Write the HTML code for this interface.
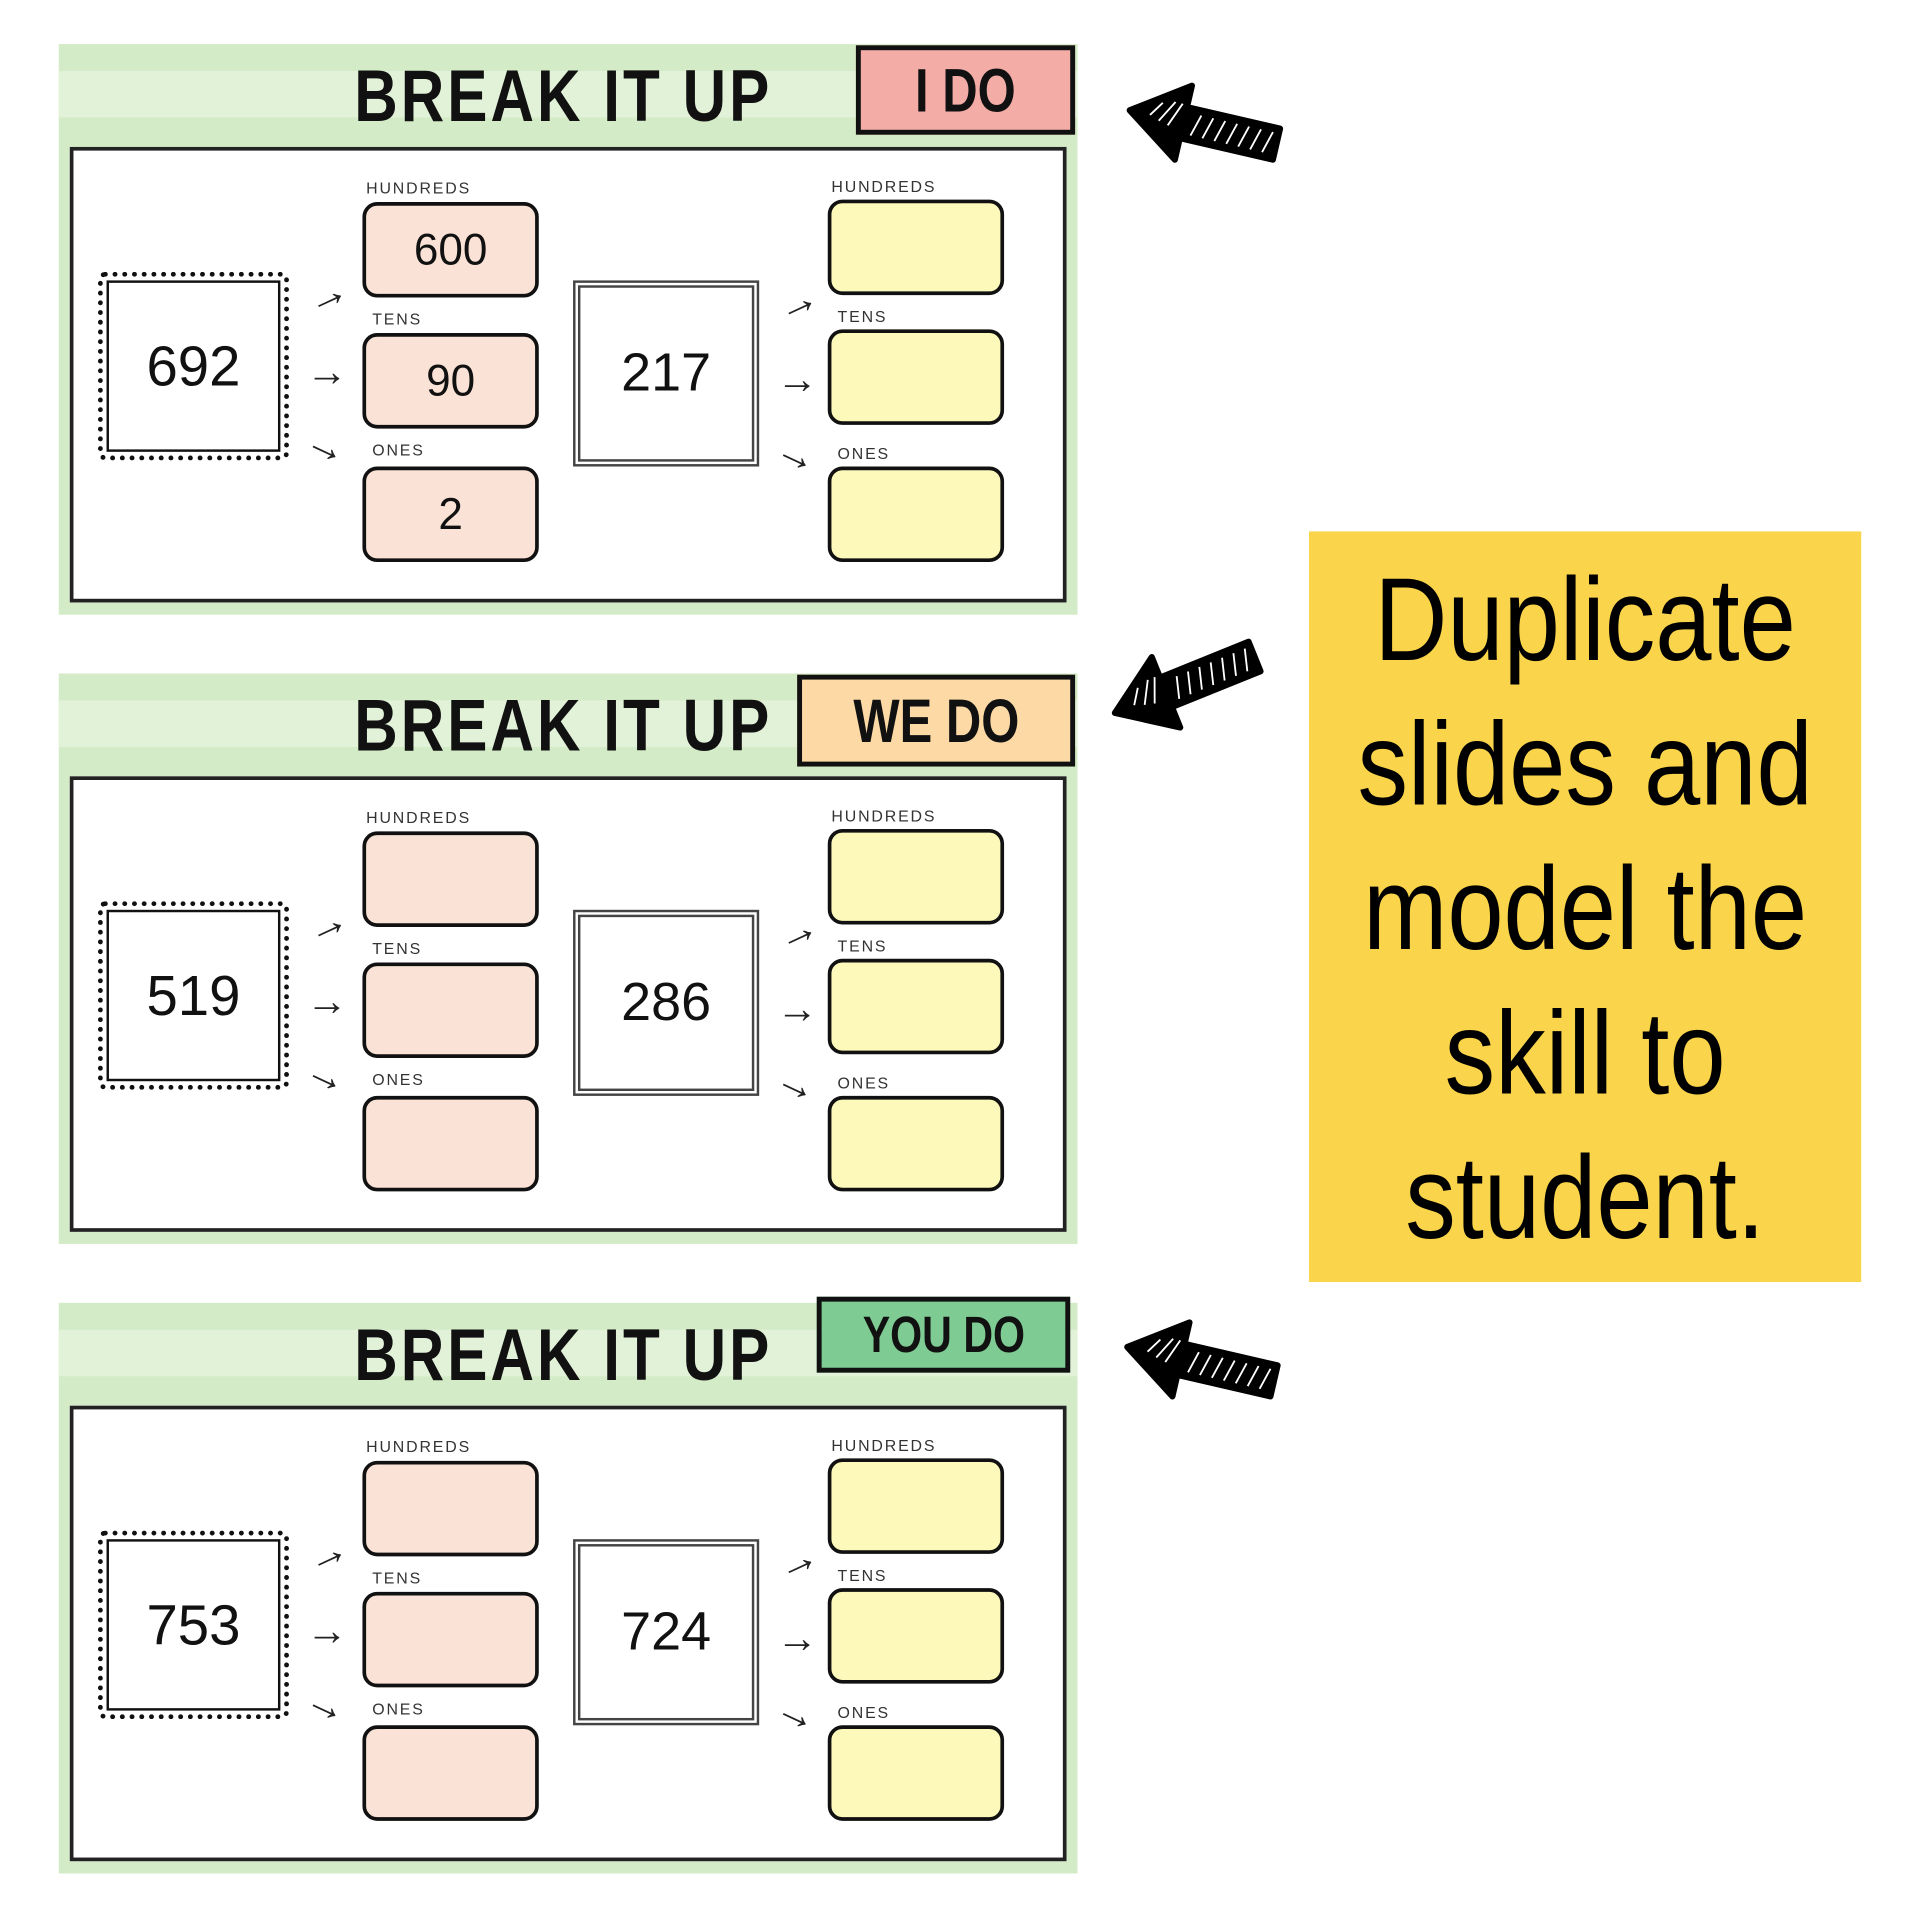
<!DOCTYPE html>
<html><head><meta charset="utf-8"><style>
html,body{margin:0;padding:0;background:#fff;}
body{width:1920px;height:1920px;overflow:hidden;position:relative;}
#w{position:absolute;left:0;top:0;width:1568px;height:1568px;transform:scale(1.22449);transform-origin:0 0;font-family:"Liberation Sans",sans-serif;}
.slide{position:absolute;left:48px;width:832px;height:466px;background:#d3ebc6;}
.band{position:absolute;left:0;top:22px;width:832px;height:38px;background:#e2f2d9;}
.title{position:absolute;left:162px;width:500px;top:8px;text-align:center;font-weight:bold;font-size:60px;letter-spacing:3px;color:#111;transform:scaleX(0.82);}
.badge{position:absolute;border:4px solid #111;box-sizing:border-box;text-align:center;font-weight:bold;color:#111;}
.badge span{display:inline-block;transform:scaleX(0.8);}
.panel{position:absolute;left:9px;top:84px;width:814px;height:372px;background:#fff;border:3px solid #222;box-sizing:border-box;}
.f1{position:absolute;left:32px;top:186px;width:156px;height:154px;box-sizing:border-box;border:4px dotted #111;outline:2px solid #111;outline-offset:-9px;border-radius:6px;font-size:46px;text-align:center;line-height:146px;color:#111;}
.f2{position:absolute;left:420px;top:193px;width:152px;height:152px;box-sizing:border-box;border:6px double #444;font-size:44px;text-align:center;line-height:140px;color:#111;}
.box{position:absolute;width:144px;height:78px;box-sizing:border-box;border:3px solid #111;border-radius:12px;font-size:36px;text-align:center;line-height:72px;color:#111;}
.p{background:#fae3d6;left:248px;}
.y{background:#fdf9ba;left:628px;}
.lbl{position:absolute;font-size:13px;letter-spacing:1.5px;color:#333;}
.ar{position:absolute;font-size:34px;line-height:34px;color:#222;}
.note{position:absolute;left:1069px;top:434px;width:451px;height:613px;background:#fad44a;text-align:center;color:#000;padding-top:14px;box-sizing:border-box;}
.note div{font-size:96px;line-height:118px;transform:scaleX(0.86);white-space:nowrap;}
.arr{position:absolute;width:130px;height:70px;}
</style></head><body><div id="w">

<div class="slide" style="top:36px">
 <div class="band"></div>
 <div class="title">BREAK IT UP</div>
 <div class="badge" style="left:651px;top:1px;width:179px;height:73px;background:#f4aca6;font-size:50px;line-height:66px;"><span>I DO</span></div>
 <div class="panel"></div>
 <div class="f1">692</div>
 <div class="ar" style="left:202px;top:188px;transform:rotate(-25deg)">→</div>
 <div class="ar" style="left:202px;top:251px">→</div>
 <div class="ar" style="left:202px;top:311px;transform:rotate(25deg)">→</div>
 <div class="lbl" style="left:251px;top:110px">HUNDREDS</div>
 <div class="box p" style="top:129px">600</div>
 <div class="lbl" style="left:256px;top:217px">TENS</div>
 <div class="box p" style="top:236px">90</div>
 <div class="lbl" style="left:256px;top:324px">ONES</div>
 <div class="box p" style="top:345px">2</div>
 <div class="f2">217</div>
 <div class="ar" style="left:586px;top:194px;transform:rotate(-25deg)">→</div>
 <div class="ar" style="left:586px;top:257px">→</div>
 <div class="ar" style="left:586px;top:318px;transform:rotate(25deg)">→</div>
 <div class="lbl" style="left:631px;top:109px">HUNDREDS</div>
 <div class="box y" style="top:127px"></div>
 <div class="lbl" style="left:636px;top:215px">TENS</div>
 <div class="box y" style="top:233px"></div>
 <div class="lbl" style="left:636px;top:327px">ONES</div>
 <div class="box y" style="top:345px"></div>
</div>

<div class="slide" style="top:550px">
 <div class="band"></div>
 <div class="title">BREAK IT UP</div>
 <div class="badge" style="left:603px;top:1px;width:227px;height:75px;background:#fcd9a5;font-size:50px;line-height:68px;"><span>WE DO</span></div>
 <div class="panel"></div>
 <div class="f1">519</div>
 <div class="ar" style="left:202px;top:188px;transform:rotate(-25deg)">→</div>
 <div class="ar" style="left:202px;top:251px">→</div>
 <div class="ar" style="left:202px;top:311px;transform:rotate(25deg)">→</div>
 <div class="lbl" style="left:251px;top:110px">HUNDREDS</div>
 <div class="box p" style="top:129px"></div>
 <div class="lbl" style="left:256px;top:217px">TENS</div>
 <div class="box p" style="top:236px"></div>
 <div class="lbl" style="left:256px;top:324px">ONES</div>
 <div class="box p" style="top:345px"></div>
 <div class="f2">286</div>
 <div class="ar" style="left:586px;top:194px;transform:rotate(-25deg)">→</div>
 <div class="ar" style="left:586px;top:257px">→</div>
 <div class="ar" style="left:586px;top:318px;transform:rotate(25deg)">→</div>
 <div class="lbl" style="left:631px;top:109px">HUNDREDS</div>
 <div class="box y" style="top:127px"></div>
 <div class="lbl" style="left:636px;top:215px">TENS</div>
 <div class="box y" style="top:233px"></div>
 <div class="lbl" style="left:636px;top:327px">ONES</div>
 <div class="box y" style="top:345px"></div>
</div>

<div class="slide" style="top:1064px">
 <div class="band"></div>
 <div class="title">BREAK IT UP</div>
 <div class="badge" style="left:619px;top:-5px;width:207px;height:62px;background:#7ecb93;font-size:42px;line-height:54px;"><span>YOU DO</span></div>
 <div class="panel"></div>
 <div class="f1">753</div>
 <div class="ar" style="left:202px;top:188px;transform:rotate(-25deg)">→</div>
 <div class="ar" style="left:202px;top:251px">→</div>
 <div class="ar" style="left:202px;top:311px;transform:rotate(25deg)">→</div>
 <div class="lbl" style="left:251px;top:110px">HUNDREDS</div>
 <div class="box p" style="top:129px"></div>
 <div class="lbl" style="left:256px;top:217px">TENS</div>
 <div class="box p" style="top:236px"></div>
 <div class="lbl" style="left:256px;top:324px">ONES</div>
 <div class="box p" style="top:345px"></div>
 <div class="f2">724</div>
 <div class="ar" style="left:586px;top:194px;transform:rotate(-25deg)">→</div>
 <div class="ar" style="left:586px;top:257px">→</div>
 <div class="ar" style="left:586px;top:318px;transform:rotate(25deg)">→</div>
 <div class="lbl" style="left:631px;top:109px">HUNDREDS</div>
 <div class="box y" style="top:127px"></div>
 <div class="lbl" style="left:636px;top:215px">TENS</div>
 <div class="box y" style="top:233px"></div>
 <div class="lbl" style="left:636px;top:327px">ONES</div>
 <div class="box y" style="top:345px"></div>
</div>

<div class="note"><div>Duplicate</div><div>slides and</div><div>model the</div><div>skill to</div><div>student.</div></div>

<svg class="arr" style="left:918px;top:69px;transform:rotate(13deg)" viewBox="0 0 130 70"><g stroke="#000" stroke-width="5" stroke-linejoin="round"><polygon points="3,35 48,4 48,66" fill="#000"/><rect x="48" y="22" width="78" height="26" fill="#000"/></g><g stroke="#fff" stroke-width="1.5"><path d="M20,35 l8,-12 M28,38 l10,-18 M36,40 l8,-20 M56,44 l5,-18 M66,44 l5,-18 M76,44 l5,-18 M86,44 l5,-18 M96,44 l5,-18 M106,44 l5,-18 M116,44 l5,-18"/></g></svg>
<svg class="arr" style="left:903px;top:524px;transform:rotate(-22deg)" viewBox="0 0 130 70"><g stroke="#000" stroke-width="5" stroke-linejoin="round"><polygon points="3,35 48,4 48,66" fill="#000"/><rect x="48" y="22" width="78" height="26" fill="#000"/></g><g stroke="#fff" stroke-width="1.5"><path d="M20,35 l8,-12 M28,38 l10,-18 M36,40 l8,-20 M56,44 l5,-18 M66,44 l5,-18 M76,44 l5,-18 M86,44 l5,-18 M96,44 l5,-18 M106,44 l5,-18 M116,44 l5,-18"/></g></svg>
<svg class="arr" style="left:916px;top:1079px;transform:rotate(13deg)" viewBox="0 0 130 70"><g stroke="#000" stroke-width="5" stroke-linejoin="round"><polygon points="3,35 48,4 48,66" fill="#000"/><rect x="48" y="22" width="78" height="26" fill="#000"/></g><g stroke="#fff" stroke-width="1.5"><path d="M20,35 l8,-12 M28,38 l10,-18 M36,40 l8,-20 M56,44 l5,-18 M66,44 l5,-18 M76,44 l5,-18 M86,44 l5,-18 M96,44 l5,-18 M106,44 l5,-18 M116,44 l5,-18"/></g></svg>

</div></body></html>
